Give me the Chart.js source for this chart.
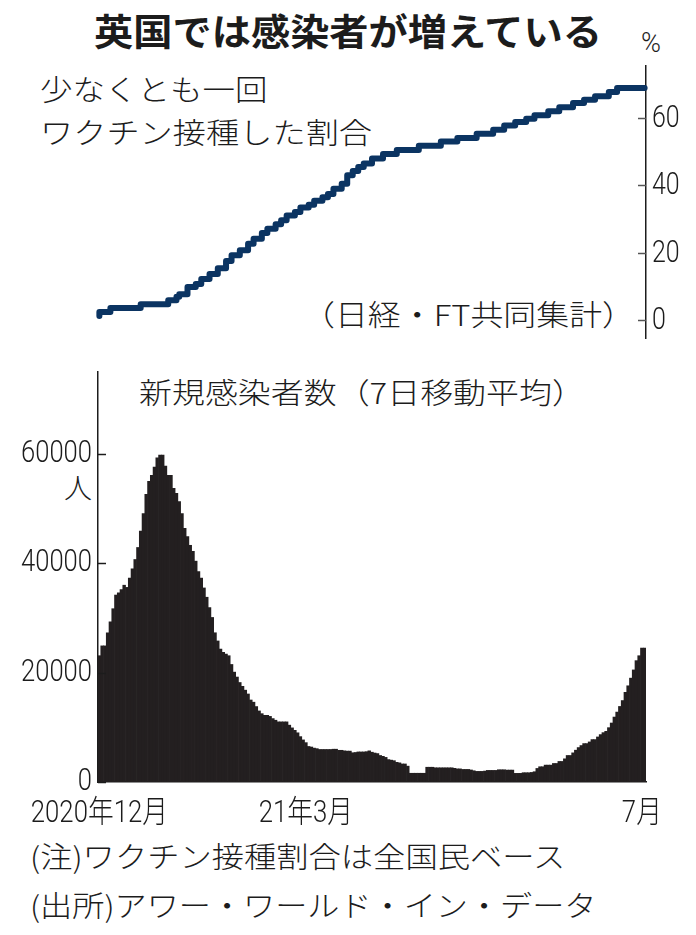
<!DOCTYPE html>
<html lang="ja">
<head>
<meta charset="utf-8">
<title>英国では感染者が増えている</title>
<script src="https://cdn.jsdelivr.net/npm/chart.js@4.4.1/dist/chart.umd.min.js"></script>
<style>
  html, body { margin: 0; padding: 0; background: #fff; }
  #page { position: relative; width: 696px; height: 935px; overflow: hidden;
          font-family: 'Noto Sans CJK JP', 'Noto Sans', sans-serif; color: #1c1c1c; }
  .txt { position: absolute; white-space: nowrap; line-height: 1; font-weight: 300;
         transform-origin: 0 0; }
  canvas { position: absolute; left: 0; }
</style>
</head>
<body>
<div id="page">
  <div class="txt" id="title" style="left:0;width:696px;text-align:center;top:12px;font-size:37px;font-weight:700;transform-origin:50% 0;transform:scaleX(1.06);">英国では感染者が増えている</div>
  <div class="txt" style="left:641px;top:30px;font-size:27px;font-family:Roboto,'Noto Sans',sans-serif;">%</div>
  <div class="txt" style="left:40px;top:74px;font-size:29px;transform:scaleX(1.12);">少なくとも一回</div>
  <div class="txt" style="left:40px;top:117px;font-size:29px;transform:scaleX(1.145);">ワクチン接種した割合</div>
  <div class="txt" style="left:302px;top:299px;font-size:29px;transform:scaleX(1.135);">（日経・FT共同集計）</div>
  <div class="txt" style="left:139px;top:377px;font-size:29px;transform:scaleX(1.136);">新規感染者数（7日移動平均）</div>
  <div class="txt" style="left:64px;top:473px;font-size:28px;">人</div>
  <div class="txt" style="left:30px;top:841px;font-size:29px;transform:scaleX(1.113);">(注)ワクチン接種割合は全国民ベース</div>
  <div class="txt" style="left:30px;top:890px;font-size:29px;transform:scaleX(1.108);">(出所)アワー・ワールド・イン・データ</div>

  <canvas id="vaxChart" width="696" height="345" style="top:0;"></canvas>
  <canvas id="caseChart" width="696" height="500" style="top:340px;"></canvas>
</div>

<script>
(function () {
    'use strict';

    // first day of both series, one entry per day after that
    var startDate = '2020-12-16';

    // new cases, 7-day average (people)
    var cases = [
        23100, 24900, 24900, 27300, 29300, 31700, 34200, 34600, 35200, 36000,
        35600, 37300, 39000, 40700, 42900, 45900, 49100, 52600, 55000, 56100,
        57600, 59300, 59800, 59800, 57800, 56100, 56100, 53700, 52800, 51300,
        49100, 46400, 44900, 43300, 42200, 40400, 38500, 37300, 35500, 33800,
        31900, 30100, 27300, 25800, 24300, 23700, 23400, 23100, 21500, 20100,
        19200, 18200, 17500, 16800, 16100, 15000, 14600, 13800, 13000, 12500,
        12200, 12200, 12000, 11600, 11300, 11000, 11000, 11000, 11000, 10400,
        9900, 9450, 9000, 8300, 7700, 7200, 6500, 6400, 6200, 6100,
        5950, 5950, 5950, 5950, 5950, 6000, 6000, 5800, 5800, 5700,
        5650, 5650, 5350, 5400, 5500, 5500, 5500, 5550, 5700, 5450,
        5300, 5200, 4850, 4700, 4500, 4100, 4000, 3900, 3600, 3500,
        3300, 3300, 2900, 1600, 1600, 1600, 1600, 1600, 1600, 2700,
        2700, 2700, 2600, 2600, 2600, 2600, 2600, 2600, 2600, 2500,
        2400, 2400, 2300, 2300, 2300, 2200, 2060, 1940, 1940, 1940,
        2000, 2120, 2120, 2120, 2120, 2240, 2240, 2240, 2180, 2180,
        2180, 1580, 1580, 1580, 1700, 1700, 1700, 1750, 1880, 2480,
        2790, 2790, 3090, 3090, 3090, 3390, 3390, 3760, 3760, 4240,
        4850, 4850, 5330, 5820, 6300, 6670, 7030, 7030, 7330, 7760,
        7760, 8240, 8670, 9030, 9270, 9940, 10790, 11880, 12790, 13820,
        14900, 16400, 17600, 19000, 20500, 22200, 23100, 24500, 24500
    ];

    // share with at least one dose (%), given on the days it stepped up
    var vaxDay = [
        0, 4, 15, 25, 28, 29, 32, 35, 37, 40, 43, 46, 48, 51, 54, 56, 59, 61,
        64, 66, 68, 71, 73, 76, 78, 81, 83, 85, 88, 90, 92, 94, 96, 99, 103,
        108, 116, 124, 130, 137, 143, 147, 151, 155, 158, 163, 167, 172, 176,
        180, 185, 188, 193, 198
    ];
    var vaxShare = [
        1.2, 2.4, 3.6, 4.7, 5.9, 6.9, 7.7, 9.8, 10.7, 12.2, 13.7, 15.4, 17.5,
        19.2, 20.7, 22.6, 24.1, 25.8, 27.1, 28.4, 29.6, 31.0, 32.0, 33.4, 34.2,
        35.4, 36.4, 37.4, 38.9, 40.4, 42.9, 44.2, 45.4, 46.4, 47.9, 49.2, 50.4,
        51.7, 52.9, 54.0, 55.2, 56.4, 57.7, 58.7, 59.7, 60.7, 61.9, 63.1, 64.3,
        65.3, 66.3, 67.6, 68.8, 68.8
    ];

    // axis labels
    var monthDates = ['2020-12-16', '2021-03-01', '2021-07-01'];
    var monthTexts = ['2020年12月', '21年3月', '7月'];
    var caseTicks = [0, 20000, 40000, 60000];
    var vaxTicks = [0, 20, 40, 60];

    var ink = '#1c1c1c';
    var numFont = "Roboto, 'Noto Sans', 'Noto Sans CJK JP', sans-serif";

    var days = [];
    var d0 = new Date(startDate + 'T00:00:00Z');
    for (var i = 0; i < cases.length; i++) {
        var d = new Date(d0.getTime() + i * 86400000);
        days.push(d.toISOString().slice(0, 10));
    }

    var vaxSeries = days.map(function () { return null; });
    vaxDay.forEach(function (day, k) { vaxSeries[day] = vaxShare[k]; });

    var monthIndex = monthDates.map(function (s) { return days.indexOf(s); });

    // short tick marks on the inside of the value axis
    var innerTicks = {
        id: 'innerTicks',
        afterDraw: function (chart, args, opts) {
            var y = chart.scales.y;
            var ctx = chart.ctx;
            var right = y.position === 'right';
            var x0 = right ? y.left : y.right;
            var dir = right ? -1 : 1;
            ctx.save();
            ctx.strokeStyle = opts.color || ink;
            ctx.lineWidth = 1.5;
            y.ticks.forEach(function (t) {
                var py = Math.round(y.getPixelForValue(t.value)) + 0.5;
                ctx.beginPath();
                ctx.moveTo(x0, py);
                ctx.lineTo(x0 + dir * 8, py);
                ctx.stroke();
            });
            ctx.restore();
        }
    };

    // tick labels in a narrow face, squeezed sideways like the print chart
    function drawText(ctx, text, x, y, align, baseline, size, squeeze) {
        ctx.save();
        ctx.translate(x, y);
        ctx.scale(squeeze, 1);
        ctx.font = '300 ' + size + 'px ' + numFont;
        ctx.fillStyle = ink;
        ctx.textAlign = align;
        ctx.textBaseline = baseline;
        ctx.fillText(text, 0, 0);
        ctx.restore();
    }

    var axisLabels = {
        id: 'axisLabels',
        afterDraw: function (chart, args, opts) {
            var ctx = chart.ctx;
            var y = chart.scales.y;
            var right = y.position === 'right';
            y.ticks.forEach(function (t) {
                var py = y.getPixelForValue(t.value) + opts.yShift;
                if (right) {
                    drawText(ctx, String(t.value), y.left + 6, py, 'left', 'middle', opts.ySize, opts.squeeze);
                } else {
                    drawText(ctx, String(t.value), y.right - 6, py, 'right', 'middle', opts.ySize, opts.squeeze);
                }
            });
            if (opts.xLabels) {
                var x = chart.scales.x;
                x.ticks.forEach(function (t) {
                    var k = monthIndex.indexOf(t.value);
                    drawText(ctx, monthTexts[k], x.getPixelForValue(t.value), x.top + opts.xGap,
                        'center', 'top', opts.xSize, opts.xSqueeze);
                });
            }
        }
    };

    new Chart(document.getElementById('vaxChart').getContext('2d'), {
        type: 'line',
        data: {
            labels: days,
            datasets: [{
                data: vaxSeries,
                borderColor: '#0b3462',
                borderWidth: 6,
                pointRadius: 0,
                stepped: 'after',
                spanGaps: true,
                borderCapStyle: 'round',
                borderJoinStyle: 'round'
            }]
        },
        options: {
            responsive: false,
            animation: false,
            layout: { padding: { left: 98, top: 66, bottom: 7, right: 0 } },
            plugins: {
                legend: { display: false },
                tooltip: { enabled: false },
                innerTicks: { color: '#555' },
                axisLabels: { ySize: 32, squeeze: 0.78, yShift: 1, xLabels: false }
            },
            scales: {
                x: { display: false, offset: true },
                y: {
                    position: 'right',
                    min: -5.3,
                    max: 75.3,
                    afterBuildTicks: function (s) {
                        s.ticks = vaxTicks.map(function (v) { return { value: v }; });
                    },
                    afterFit: function (s) { s.width = 50; },
                    grid: { display: false, drawTicks: false },
                    border: { color: ink, width: 1.5 },
                    ticks: { display: false }
                }
            }
        },
        plugins: [innerTicks, axisLabels]
    });

    new Chart(document.getElementById('caseChart').getContext('2d'), {
        type: 'bar',
        data: {
            labels: days,
            datasets: [{
                data: cases,
                backgroundColor: '#231f20',
                borderWidth: 0,
                barPercentage: 1,
                categoryPercentage: 1
            }]
        },
        options: {
            responsive: false,
            animation: false,
            layout: { padding: { left: 0, top: 32, bottom: 0, right: 50 } },
            plugins: {
                legend: { display: false },
                tooltip: { enabled: false },
                axisLabels: {
                    ySize: 32, squeeze: 0.8, yShift: 0,
                    xLabels: true, xSize: 31, xSqueeze: 0.83, xGap: 17
                }
            },
            scales: {
                x: {
                    offset: true,
                    afterBuildTicks: function (s) {
                        s.ticks = monthIndex.map(function (v) { return { value: v }; });
                    },
                    afterFit: function (s) { s.height = 58; },
                    grid: { display: false, drawTicks: false },
                    border: { color: ink, width: 1.5 },
                    ticks: { display: false }
                },
                y: {
                    min: 0,
                    max: 75000,
                    afterBuildTicks: function (s) {
                        s.ticks = caseTicks.map(function (v) { return { value: v }; });
                    },
                    afterFit: function (s) { s.width = 98; },
                    grid: { display: false, drawTicks: false },
                    border: { color: ink, width: 1.5 },
                    ticks: { display: false }
                }
            }
        },
        plugins: [innerTicks, axisLabels]
    });
})();
</script>
</body>
</html>
